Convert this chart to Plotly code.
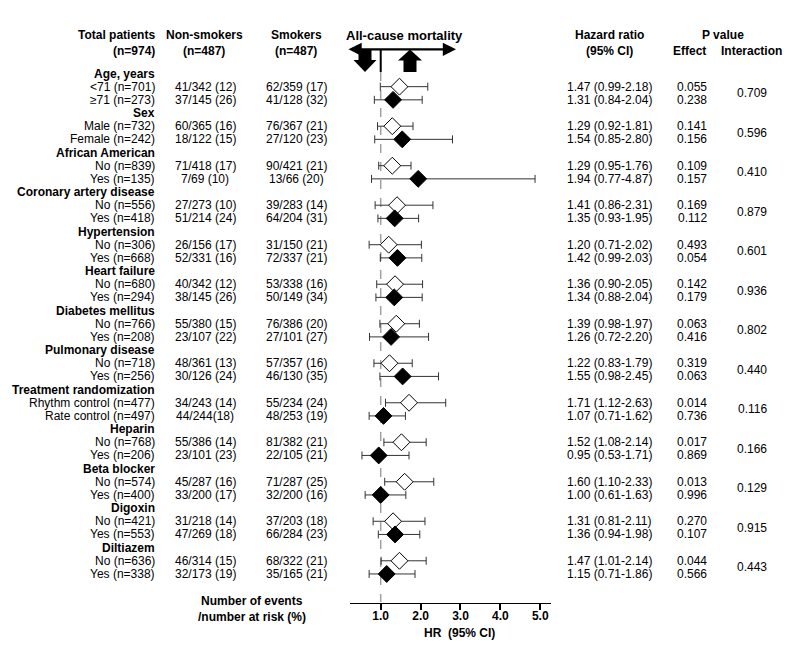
import plotly.graph_objects as go

W, H = 800, 662
PAGE_PAD = 8  # default body margin of the written html page

# Data
groups = ["Age, years", "Sex", "African American", "Coronary artery disease", "Hypertension",
          "Heart failure", "Diabetes mellitus", "Pulmonary disease", "Treatment randomization",
          "Heparin", "Beta blocker", "Digoxin", "Diltiazem"]
subgroups = ["<71 (n=701)", "≥71 (n=273)", "Male (n=732)", "Female (n=242)",
             "No (n=839)", "Yes (n=135)", "No (n=556)", "Yes (n=418)",
             "No (n=306)", "Yes (n=668)", "No (n=680)", "Yes (n=294)",
             "No (n=766)", "Yes (n=208)", "No (n=718)", "Yes (n=256)",
             "Rhythm control (n=477)", "Rate control (n=497)", "No (n=768)", "Yes (n=206)",
             "No (n=574)", "Yes (n=400)", "No (n=421)", "Yes (n=553)",
             "No (n=636)", "Yes (n=338)"]
non_smokers = ["41/342 (12)", "37/145 (26)", "60/365 (16)", "18/122 (15)",
               "71/418 (17)", "7/69 (10)", "27/273 (10)", "51/214 (24)",
               "26/156 (17)", "52/331 (16)", "40/342 (12)", "38/145 (26)",
               "55/380 (15)", "23/107 (22)", "48/361 (13)", "30/126 (24)",
               "34/243 (14)", "44/244(18)", "55/386 (14)", "23/101 (23)",
               "45/287 (16)", "33/200 (17)", "31/218 (14)", "47/269 (18)",
               "46/314 (15)", "32/173 (19)"]
smokers = ["62/359 (17)", "41/128 (32)", "76/367 (21)", "27/120 (23)",
           "90/421 (21)", "13/66 (20)", "39/283 (14)", "64/204 (31)",
           "31/150 (21)", "72/337 (21)", "53/338 (16)", "50/149 (34)",
           "76/386 (20)", "27/101 (27)", "57/357 (16)", "46/130 (35)",
           "55/234 (24)", "48/253 (19)", "81/382 (21)", "22/105 (21)",
           "71/287 (25)", "32/200 (16)", "37/203 (18)", "66/284 (23)",
           "68/322 (21)", "35/165 (21)"]
hr = [1.47, 1.31, 1.29, 1.54, 1.29, 1.94, 1.41, 1.35, 1.20, 1.42, 1.36, 1.34, 1.39,
      1.26, 1.22, 1.55, 1.71, 1.07, 1.52, 0.95, 1.60, 1.00, 1.31, 1.36, 1.47, 1.15]
hr_lo = [0.99, 0.84, 0.92, 0.85, 0.95, 0.77, 0.86, 0.93, 0.71, 0.99, 0.90, 0.88, 0.98,
         0.72, 0.83, 0.98, 1.12, 0.71, 1.08, 0.53, 1.10, 0.61, 0.81, 0.94, 1.01, 0.71]
hr_hi = [2.18, 2.04, 1.81, 2.80, 1.76, 4.87, 2.31, 1.95, 2.02, 2.03, 2.05, 2.04, 1.97,
         2.20, 1.79, 2.45, 2.63, 1.62, 2.14, 1.71, 2.33, 1.63, 2.11, 1.98, 2.14, 1.86]
p_effect = [0.055, 0.238, 0.141, 0.156, 0.109, 0.157, 0.169, 0.112, 0.493, 0.054, 0.142,
            0.179, 0.063, 0.416, 0.319, 0.063, 0.014, 0.736, 0.017, 0.869, 0.013, 0.996,
            0.270, 0.107, 0.044, 0.566]
p_interaction = [0.709, 0.596, 0.410, 0.879, 0.601, 0.936, 0.802, 0.440, 0.116, 0.166,
                 0.129, 0.915, 0.443]
hr_ticks = [1, 2, 3, 4, 5]

FONT = "Arial, Liberation Sans, sans-serif"
FS = 12


def px(x):
    return (x - PAGE_PAD) / W


def py(y):
    return 1 - (y - PAGE_PAD) / H


# row index: group header at 3k, its two subgroups at 3k+1, 3k+2
header_rows = [3 * k for k in range(len(groups))]
data_rows = [3 * k + j for k in range(len(groups)) for j in (1, 2)]
first = data_rows[0::2]
second = data_rows[1::2]

fig = go.Figure()

err_style = dict(type="data", thickness=1, width=4, color="#333")
fig.add_trace(go.Scatter(
    x=hr[0::2], y=first, mode="markers",
    marker=dict(symbol="diamond", size=13, color="white", line=dict(color="black", width=1)),
    error_x=dict(array=[h - c for h, c in zip(hr_hi[0::2], hr[0::2])],
                 arrayminus=[c - l for c, l in zip(hr[0::2], hr_lo[0::2])], **err_style),
    showlegend=False,
))
fig.add_trace(go.Scatter(
    x=hr[1::2], y=second, mode="markers",
    marker=dict(symbol="diamond", size=13, color="black", line=dict(color="black", width=1)),
    error_x=dict(array=[h - c for h, c in zip(hr_hi[1::2], hr[1::2])],
                 arrayminus=[c - l for c, l in zip(hr[1::2], hr_lo[1::2])], **err_style),
    showlegend=False,
))

ann = []


def txt(x, y, text, anchor="center", bold=False, size=FS, yref="y"):
    ann.append(dict(x=px(x), xref="paper", y=y, yref=yref, text=f"<b>{text}</b>" if bold else text,
                    showarrow=False, xanchor=anchor, yanchor="middle",
                    font=dict(family=FONT, size=size, color="black")))


# column headers
hy1, hy2 = py(35), py(51.5)
txt(157, hy1, "Total patients", "right", True, yref="paper")
txt(157, hy2, "(n=974)", "right", True, yref="paper")
txt(204, hy1, "Non-smokers", bold=True, yref="paper")
txt(204, hy2, "(n=487)", bold=True, yref="paper")
txt(296, hy1, "Smokers", bold=True, yref="paper")
txt(296, hy2, "(n=487)", bold=True, yref="paper")
txt(404, py(36), "All-cause mortality", bold=True, size=13, yref="paper")
txt(609, hy1, "Hazard ratio", bold=True, yref="paper")
txt(609, hy2, "(95% CI)", bold=True, yref="paper")
txt(723, hy1, "P value", bold=True, yref="paper")
txt(689, hy2, "Effect", bold=True, yref="paper")
txt(751, hy2, "Interaction", bold=True, yref="paper")

for r, g in zip(header_rows, groups):
    txt(157, r, g, "right", True)
for i, r in enumerate(data_rows):
    txt(157, r, subgroups[i], "right")
    txt(205, r, non_smokers[i])
    txt(296, r, smokers[i])
    txt(609, r, f"{hr[i]:.2f} ({hr_lo[i]:.2f}-{hr_hi[i]:.2f})")
    txt(692, r, f"{p_effect[i]:.3f}")
for k, p in enumerate(p_interaction):
    txt(752, 3 * k + 1.5, f"{p:.3f}")

txt(252, py(601), "Number of events", bold=True, yref="paper")
txt(252, py(617), "/number at risk (%)", bold=True, yref="paper")
txt(460, py(633), "HR  (95% CI)", bold=True, yref="paper")

# double-headed arrow under the title
ann.append(dict(x=px(456), y=py(49.3), xref="paper", yref="paper", ax=-109, ay=0,
                text="", showarrow=True, arrowside="end+start", arrowhead=2,
                startarrowhead=2, arrowwidth=2.2, arrowsize=1.2, startarrowsize=1.2,
                arrowcolor="black"))

shapes = [
    # reference line at HR = 1
    dict(type="line", xref="x", yref="paper", x0=1, x1=1, y0=py(49), y1=py(72),
         line=dict(color="black", width=2)),
    dict(type="line", xref="x", yref="paper", x0=1, x1=1, y0=py(72), y1=py(602),
         line=dict(color="#a0a0a0", width=1.5, dash="dash"), layer="below"),
    # block arrows
    dict(type="path", xref="paper", yref="paper", fillcolor="black", line=dict(width=0),
         path=(f"M{px(358.5)},{py(49)} L{px(371.5)},{py(49)} L{px(371.5)},{py(60)} "
               f"L{px(376.5)},{py(60)} L{px(365)},{py(72)} L{px(353.5)},{py(60)} "
               f"L{px(358.5)},{py(60)} Z")),
    dict(type="path", xref="paper", yref="paper", fillcolor="black", line=dict(width=0),
         path=(f"M{px(403.5)},{py(72)} L{px(416.5)},{py(72)} L{px(416.5)},{py(60.5)} "
               f"L{px(422)},{py(60.5)} L{px(410)},{py(49.5)} L{px(398)},{py(60.5)} "
               f"L{px(403.5)},{py(60.5)} Z")),
]

row_px0, row_step = 73.5 - PAGE_PAD, 13.17
fig.update_layout(
    width=W, height=H,
    margin=dict(l=0, r=0, t=0, b=0),
    paper_bgcolor="white", plot_bgcolor="white",
    annotations=ann, shapes=shapes,
    xaxis=dict(domain=[px(350), px(551)], range=[0.23, 5.27], anchor="free",
               position=py(602.5), showline=True, linecolor="black", linewidth=1,
               ticks="outside", ticklen=6, tickcolor="black", tickwidth=1.5,
               ticklabelstandoff=-4,
               tickvals=hr_ticks, ticktext=[f"<b>{t:.1f}</b>" for t in hr_ticks],
               tickfont=dict(family=FONT, size=12, color="black"),
               showgrid=False, zeroline=False),
    yaxis=dict(domain=[0, 1], range=[(H - row_px0) / row_step, -row_px0 / row_step],
               visible=False, showgrid=False, zeroline=False),
)

fig.write_html("out.html")
